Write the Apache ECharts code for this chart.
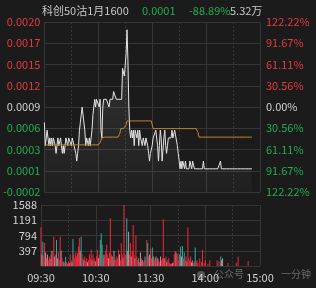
<!DOCTYPE html>
<html>
<head>
<meta charset="utf-8">
<script src="https://cdn.jsdelivr.net/npm/echarts@6/dist/echarts.min.js"></script>
<style>
html, body { margin: 0; padding: 0; background: #1b1b1b; }
#main { width: 316px; height: 288px; }
</style>
</head>
<body>
<div id="main"></div>
<script>
// 分时价格，单位 0.0001
const price = [
    7,4,5,6,6,4,5,4,5,4, 5,5,4,3,4,5,4,4,5,4, 3,4,3,4,5,5,4,5,5,5, 4,5,5,4,4,3,2,3,4,6,
    7,8,9,9,9,6,4,5,5,4, 5,4,4,6,8,9,10,9,10,10, 10,9,10,6,5,9,10,10,10,10, 10,10,9,10,10,10,10,11,11,11,
    10,10,10,10,10,10,10,14,14,13, 13,16,19,15,9,6,5,6,5,6, 4,6,6,5,6,4,6,5,5,4, 5,5,4,5,5,4,3,2,3,3,
    4,5,5,5,6,6,4,2,4,6, 5,2,2,5,6,4,3,4,5,5, 5,5,6,5,5,6,6,6,4,3, 2,1,2,1,2,2,1,2,1,1,
    1,1,2,2,1,2,2,1,1,1, 1,1,1,1,1,1,1,2,1,1, 1,1,1,1,1,1,1,1,1,1, 1,1,1,1,1,1,2,1,1,1,
    1,1,1,1,1,1,1,1,1,1, 1,1,1,1,1,1,1,1,1,1, 1,1,1,1,1,1,1,1,1,1, 1,1
];
// 均价，单位 0.0001
const avgPrice = [
    4.1,4.1,4.1,4.1,4.1,4.1,4.1,4.1,4.1,4.1, 4.1,4.1,4.1,4.1,4.1,4.1,4.1,4.1,4.1,4.1,
    4.1,4.1,4.1,4.1,4.1,4.1,4.1,4.1,4.1,4.1, 4.1,4.1,4.1,4.1,4.1,4.1,4.1,4.1,4.1,4.1,
    4.1,4.1,4.1,4.1,4.1,4.1,4.1,4.1,4.1,4.1, 4.1,4.1,4.1,4.1,4.1,4.1,4.1,4.1,4.1,4.1,
    4.1,4.1,4.4,4.7,5.0,5.1,5.1,5.1,5.1,5.1, 5.1,5.1,5.1,5.1,5.1,5.1,5.1,5.1,5.1,5.1,
    5.1,5.1,5.1,5.1,5.6,6.2,6.2,6.2,6.2,6.2, 6.2,6.7,7.2,7.2,7.2,7.2,7.2,7.2,7.2,7.2,
    7.2,7.2,7.2,7.2,7.2,7.2,7.2,7.2,7.2,7.2, 7.2,7.2,7.2,7.2,7.2,7.2,7.2,7.2,7.2,7.2,
    6.7,6.2,6.2,6.2,6.2,6.2,6.2,6.2,6.2,6.2, 6.2,6.2,6.2,6.2,6.2,6.2,6.2,6.2,6.2,6.2,
    6.2,6.2,6.2,6.2,6.2,6.2,6.2,6.2,6.2,6.2, 6.2,6.2,6.2,6.2,6.2,6.2,6.2,6.2,6.2,6.2,
    6.2,6.2,6.2,6.2,6.2,6.2,6.2,6.2,6.2,6.2, 6.2,5.7,5.1,5.1,5.1,5.1,5.1,5.1,5.1,5.1,
    5.1,5.1,5.1,5.1,5.1,5.1,5.1,5.1,5.1,5.1, 5.1,5.1,5.1,5.1,5.1,5.1,5.1,5.1,5.1,5.1,
    5.1,5.1,5.1,5.1,5.1,5.1,5.1,5.1,5.1,5.1, 5.1,5.1,5.1,5.1,5.1,5.1,5.1,5.1,5.1,5.1,
    5.1,5.1,5.1,5.1,5.1,5.1,5.1,5.1,5.1,5.1, 5.1,5.1
];
// 成交量
const volume = [
    1000,300,630,250,600,350,200,300,150,250, 180,300,400,200,760,250,300,680,200,350,
    150,760,400,200,100,120,80,240,100,60, 120,80,300,150,100,700,300,200,350,250,
    330,500,730,400,760,300,200,150,250,120, 200,100,150,300,200,420,150,300,200,150,
    120,250,420,200,300,680,850,560,200,300, 250,400,550,300,200,350,1240,300,250,150,
    400,200,150,250,200,420,300,150,600,300, 200,1588,300,300,1240,400,890,300,600,250,
    400,1070,300,200,800,250,150,200,100,350, 200,150,100,150,250,200,680,600,250,300,
    450,200,480,250,150,200,250,120,200,150, 100,250,150,200,1215,200,150,250,100,150,
    200,80,50,60,80,100,300,400,350,250, 320,150,300,500,250,520,200,350,150,250,
    120,1000,200,150,250,100,150,80,120,480, 100,150,80,0,200,0,100,420,0,80,
    150,0,0,60,0,150,0,0,0,0, 0,0,0,150,0,120,0,250,150,200,
    0,0,0,0,0,80,0,0,0,0, 0,0,0,0,80,0,240,0,0,0,
    0,0,0,0,0,0,0,130,0,0, 0,0
];
// 涨跌方向: 1 红, -1 绿, 0 平
const volDir = [
    1,0,-1,1,1,0,1,0,1,1, 0,1,0,1,1,0,1,-1,0,1, 1,1,0,1,1,-1,1,-1,1,1, 1,0,1,1,0,-1,1,1,1,1,
    1,1,1,0,-1,1,1,0,1,1, 1,0,1,1,1,1,0,1,1,1, 0,1,1,0,1,-1,-1,-1,1,0, 1,1,1,1,0,1,1,1,0,1,
    0,1,1,1,1,1,0,1,1,1, 0,1,1,1,-1,0,0,1,1,0, 1,1,1,0,1,1,1,-1,1,0, 1,0,1,1,-1,1,1,-1,1,0,
    1,1,-1,0,1,1,0,1,0,1, 1,0,1,1,1,0,1,1,0,1, 1,1,1,1,0,1,1,1,0,1, 1,1,-1,-1,0,-1,1,-1,1,1,
    0,1,1,1,1,0,-1,1,1,-1, 1,1,1,1,1,1,1,1,1,1, 1,1,1,1,1,1,1,1,1,1, 1,1,1,1,1,1,1,-1,0,0,
    1,1,1,1,1,1,1,1,1,1, 1,1,1,1,1,1,1,1,1,1, 1,1,1,1,1,1,1,1,1,1, 1,1
];

const basePrice = 9;      // 昨收 0.0009
const priceStep = 2.75;   // 每格价差
const leftLabels = ['-0.0002', '0.0001', '0.0003', '0.0006', '0.0009', '0.0012', '0.0015', '0.0017', '0.0020'];
const rightLabels = ['122.22%', '91.67%', '61.11%', '30.56%', '0.00%', '30.56%', '61.11%', '91.67%', '122.22%'];
const volMax = 1588;
const volInterval = 397;

// 分钟时间轴 09:30-11:30, 13:00-15:00
const times = [];
for (let i = 0; i <= 240; i++) {
    let m = i <= 120 ? 9 * 60 + 30 + i : 13 * 60 + (i - 120);
    let h = Math.floor(m / 60), mm = m % 60;
    times.push((h < 10 ? '0' : '') + h + ':' + (mm < 10 ? '0' : '') + mm);
}

const RED = '#e8393d', GREEN = '#1fae50', WHITE = '#d2d2d2';
const GRID_LINE = '#363636';
const FONT = '"Noto Sans CJK SC", "Noto Sans", sans-serif';

const chart = echarts.init(document.getElementById('main'));

function labelColor(v) {
    const i = Math.round(v) + 4;
    return i > 4 ? RED : (i < 4 ? GREEN : WHITE);
}
function xAxisFor(gridIndex, mod, dashed, showLabel) {
    return {
        type: 'category',
        gridIndex: gridIndex,
        data: times,
        boundaryGap: false,
        axisLine: { show: false },
        axisTick: { show: false },
        axisLabel: {
            show: showLabel,
            interval: (i) => i % 60 === 0,
            color: WHITE,
            fontSize: 11,
            fontFamily: FONT,
            margin: 6
        },
        splitLine: {
            show: true,
            interval: (i) => i % 60 === mod,
            lineStyle: { color: GRID_LINE, width: 1, type: dashed ? [2, 2] : 'solid' }
        }
    };
}

const option = {
    backgroundColor: '#1b1b1b',
    animation: false,
    grid: [
        { left: 41, top: 22, width: 219, height: 170 },
        { left: 41, top: 205, width: 219, height: 61 }
    ],
    xAxis: [
        xAxisFor(0, 0, false, false),
        xAxisFor(0, 30, true, false),
        xAxisFor(1, 0, false, true),
        xAxisFor(1, 30, true, false)
    ],
    yAxis: [
        {
            type: 'value', gridIndex: 0, position: 'left',
            min: -4, max: 4, interval: 1,
            axisLine: { show: false }, axisTick: { show: false },
            axisLabel: {
                formatter: (v) => leftLabels[Math.round(v) + 4],
                color: labelColor, fontSize: 11, fontFamily: FONT, margin: 4
            },
            splitLine: { lineStyle: { color: GRID_LINE, width: 1 } }
        },
        {
            type: 'value', gridIndex: 0, position: 'right',
            min: -4, max: 4, interval: 1,
            axisLine: { show: false }, axisTick: { show: false },
            axisLabel: {
                formatter: (v) => rightLabels[Math.round(v) + 4],
                color: labelColor, fontSize: 11, fontFamily: FONT, margin: 6
            },
            splitLine: { show: false }
        },
        {
            type: 'value', gridIndex: 1, position: 'left',
            min: 0, max: volMax, interval: volInterval,
            axisLine: { show: false }, axisTick: { show: false },
            axisLabel: {
                formatter: (v) => v === 0 ? '' : String(v),
                color: WHITE, fontSize: 11, fontFamily: FONT, margin: 4
            },
            splitLine: { lineStyle: { color: GRID_LINE, width: 1 } }
        }
    ],
    series: [
        {
            type: 'line', xAxisIndex: 0, yAxisIndex: 0,
            data: price.map(p => (p - basePrice) / priceStep),
            symbol: 'none',
            lineStyle: { color: '#e4e4e4', width: 1 },
            areaStyle: {
                origin: 'start',
                color: new echarts.graphic.LinearGradient(0, 0, 0, 1, [
                    { offset: 0, color: 'rgba(255,255,255,0.16)' },
                    { offset: 1, color: 'rgba(255,255,255,0.03)' }
                ])
            },
            z: 3
        },
        {
            type: 'line', xAxisIndex: 0, yAxisIndex: 0,
            data: avgPrice.map(p => (p - basePrice) / priceStep),
            symbol: 'none',
            lineStyle: { color: '#c4862c', width: 1 },
            z: 4
        },
        {
            type: 'bar', xAxisIndex: 2, yAxisIndex: 2,
            data: volume,
            barWidth: 1,
            itemStyle: {
                color: (p) => volDir[p.dataIndex] > 0 ? '#f2283c' : (volDir[p.dataIndex] < 0 ? '#35a89c' : '#b8979d')
            }
        }
    ],
    graphic: [
        { type: 'text', left: 42, top: 5, style: { text: '科创50沽1月1600', fill: '#c8c8c8', font: '11px ' + FONT } },
        { type: 'text', left: 142, top: 5, style: { text: '0.0001', fill: GREEN, font: '11px ' + FONT } },
        { type: 'text', left: 189, top: 5, style: { text: '-88.89%', fill: GREEN, font: '11px ' + FONT } },
        { type: 'text', left: 230, top: 5, style: { text: '5.32万', fill: '#c8c8c8', font: '11px ' + FONT } },
        // 水印
        { type: 'circle', left: 197, top: 271, shape: { r: 4 }, style: { fill: 'rgba(200,200,200,0.35)' } },
        { type: 'text', left: 214, top: 269, style: { text: '公众号', fill: 'rgba(200,200,200,0.45)', font: '10px ' + FONT } },
        { type: 'text', left: 281, top: 269, style: { text: '一分钟', fill: 'rgba(200,200,200,0.45)', font: '10px ' + FONT } }
    ]
};

chart.setOption(option);
</script>
</body>
</html>
